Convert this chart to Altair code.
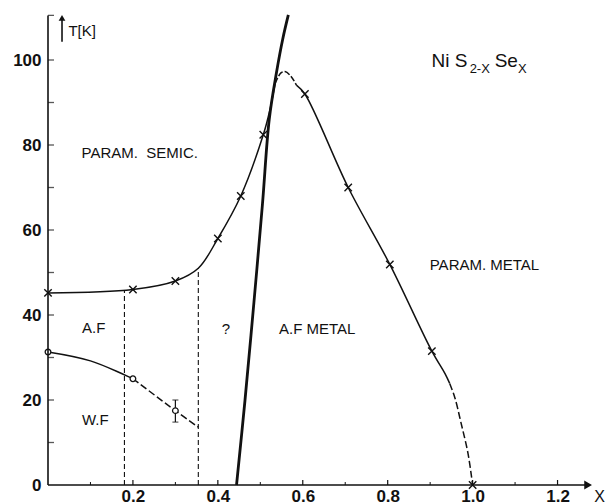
import altair as alt
import pandas as pd

# ---- measured transition temperatures ---------------------------------
# x marks (upper phase boundary)
cross_x = [0.0, 0.2, 0.3, 0.4, 0.454, 0.507, 0.605, 0.707, 0.805, 0.904, 1.0]
cross_t = [45.2, 46.0, 48.0, 58.0, 68.0, 82.4, 92.0, 70.0, 51.9, 31.5, 0.0]

# open circles (weak-ferromagnetic transition)
circ_x = [0.0, 0.2, 0.3]
circ_t = [31.3, 25.0, 17.5]

# error bar on the x = 0.3 circle
err_x = [0.3]
err_lo = [14.8]
err_hi = [20.0]

# ---- phase boundary curves (traced points) ----------------------------
up1_x = [0.0, 0.2, 0.3, 0.354, 0.4, 0.454, 0.507, 0.522, 0.535]
up1_t = [45.2, 46.0, 48.0, 51.0, 58.0, 68.0, 82.4, 88.0, 94.5]
peak_x = [0.535, 0.548, 0.558, 0.572, 0.585]
peak_t = [94.5, 96.9, 97.3, 96.2, 94.1]
up2_x = [0.585, 0.605, 0.707, 0.805, 0.904, 0.935, 0.946]
up2_t = [94.1, 92.0, 70.0, 51.9, 31.5, 26.2, 23.9]
tail_x = [0.946, 0.958, 0.973, 0.989, 1.0]
tail_t = [23.9, 20.6, 14.5, 7.5, 0.0]

low1_x = [0.0, 0.1, 0.2]
low1_t = [31.3, 29.2, 25.0]
low2_x = [0.2, 0.3, 0.354]
low2_t = [25.0, 17.5, 13.6]

# metal / semiconductor boundary (heavy line)
mi_x = [0.444, 0.464, 0.485, 0.505, 0.521, 0.538, 0.553, 0.566]
mi_t = [0.0, 20.0, 43.0, 66.0, 86.0, 97.0, 105.0, 110.6]

# dashed vertical region boundaries
vd_x = [0.18, 0.354]
vd_top = [45.8, 51.0]

# ---- axis ticks --------------------------------------------------------
y_ticks = [10, 20, 30, 40, 50, 60, 70, 80, 90, 100, 110.5]
x_major = [0.2, 0.4, 0.6, 0.8, 1.0, 1.2]
x_minor = [0.1, 0.3, 0.5, 0.7, 0.9, 1.1]
y_labels = [0, 20, 40, 60, 80, 100]

# ---- region labels -----------------------------------------------------
lab_text = ["PARAM.\u00a0 SEMIC.", "A.F", "W.F", "?", "A.F METAL", "PARAM. METAL"]
lab_x = [0.079, 0.080, 0.080, 0.409, 0.544, 0.899]
lab_t = [78.1, 36.9, 15.3, 36.7, 36.7, 51.8]

W, H = 552, 476
X_DOM = [0, 1.3]
Y_DOM = [0, 112]
INK = "#111111"
FONT = "Liberation Sans"

xs = alt.Scale(domain=X_DOM, nice=False, zero=False)
ys = alt.Scale(domain=Y_DOM, nice=False, zero=False)


def df(**cols):
    return pd.DataFrame(cols)


def curve(xv, tv, dash=None, width=1.5, interp="catmull-rom"):
    kw = dict(color=INK, strokeWidth=width, interpolate=interp, clip=False)
    if dash:
        kw["strokeDash"] = dash
    return alt.Chart(df(x=xv, t=tv)).mark_line(**kw).encode(
        x=alt.X("x:Q", scale=xs), y=alt.Y("t:Q", scale=ys)
    )


# base layer carrying the labelled axes
base = alt.Chart(df(x=[0.0], t=[0.0])).mark_point(opacity=0).encode(
    x=alt.X(
        "x:Q", scale=xs,
        axis=alt.Axis(values=x_major, format=".1f", title=None, domain=False,
                      ticks=False, grid=False, labelFont=FONT, labelFontSize=17,
                      labelFontWeight="bold", labelColor=INK, labelPadding=3),
    ),
    y=alt.Y(
        "t:Q", scale=ys,
        axis=alt.Axis(values=y_labels, format="d", title=None, domain=False,
                      ticks=False, grid=False, labelFont=FONT, labelFontSize=17,
                      labelFontWeight="bold", labelColor=INK, labelPadding=7),
    ),
)

# axis lines
x_axis_line = alt.Chart(df(x=[0.0], x2=[1.27], t=[0.0])).mark_rule(
    color=INK, strokeWidth=1.6).encode(
    x=alt.X("x:Q", scale=xs), x2="x2:Q", y=alt.Y("t:Q", scale=ys))
y_axis_line = alt.Chart(df(x=[0.0], t=[0.0], t2=[110.5])).mark_rule(
    color=INK, strokeWidth=1.6).encode(
    x=alt.X("x:Q", scale=xs), y=alt.Y("t:Q", scale=ys), y2="t2:Q")

x_arrow = alt.Chart(df(x=[1.272], t=[0.0])).mark_point(
    shape="triangle-right", filled=True, size=80, color=INK, opacity=1).encode(
    x=alt.X("x:Q", scale=xs), y=alt.Y("t:Q", scale=ys))

# T[K] arrow beside the y axis
t_arrow_line = alt.Chart(df(x=[0.033], t=[104.3], t2=[109.5])).mark_rule(
    color=INK, strokeWidth=1.6).encode(
    x=alt.X("x:Q", scale=xs), y=alt.Y("t:Q", scale=ys), y2="t2:Q")
t_arrow_head = alt.Chart(df(x=[0.033], t=[109.9])).mark_point(
    shape="triangle-up", filled=True, size=45, color=INK, opacity=1).encode(
    x=alt.X("x:Q", scale=xs), y=alt.Y("t:Q", scale=ys))

# inward ticks on the ordinate
y_tick_marks = alt.Chart(df(x=[0.0] * len(y_ticks), t=y_ticks)).mark_tick(
    color=INK, orient="horizontal", size=6, thickness=1.3, xOffset=3).encode(
    x=alt.X("x:Q", scale=xs), y=alt.Y("t:Q", scale=ys))
# inward ticks on the abscissa
x_major_ticks = alt.Chart(df(x=x_major)).mark_rule(color=INK, strokeWidth=1.2).encode(
    x=alt.X("x:Q", scale=xs), y=alt.value(H), y2=alt.value(H - 5))
x_minor_ticks = alt.Chart(df(x=x_minor)).mark_rule(color=INK, strokeWidth=1.0).encode(
    x=alt.X("x:Q", scale=xs), y=alt.value(H), y2=alt.value(H - 3))

# dashed vertical boundaries
vdash = alt.Chart(df(x=vd_x, t=[0.0, 0.0], t2=vd_top)).mark_rule(
    color=INK, strokeWidth=1.1, strokeDash=[5, 3]).encode(
    x=alt.X("x:Q", scale=xs), y=alt.Y("t:Q", scale=ys), y2="t2:Q")

# curves
upper = [
    curve(up1_x, up1_t),
    curve(peak_x, peak_t, dash=[6, 2]),
    curve(up2_x, up2_t),
    curve(tail_x, tail_t, dash=[7, 3]),
]
lower = [
    curve(low1_x, low1_t),
    curve(low2_x, low2_t, dash=[7, 3]),
]
heavy = curve(mi_x, mi_t, width=2.8)

# error bar with caps
err_bar = alt.Chart(df(x=err_x, lo=err_lo, hi=err_hi)).mark_rule(
    color=INK, strokeWidth=1.2).encode(
    x=alt.X("x:Q", scale=xs), y=alt.Y("lo:Q", scale=ys), y2="hi:Q")
err_caps = alt.Chart(df(x=err_x * 2, t=err_lo + err_hi)).mark_tick(
    color=INK, orient="horizontal", size=6, thickness=1.2).encode(
    x=alt.X("x:Q", scale=xs), y=alt.Y("t:Q", scale=ys))

crosses = alt.Chart(df(x=cross_x, t=cross_t)).mark_point(
    shape="M-1,-1L1,1M-1,1L1,-1", size=55, color=INK, strokeWidth=1.4,
    filled=False, opacity=1, clip=False).encode(
    x=alt.X("x:Q", scale=xs), y=alt.Y("t:Q", scale=ys))

circles = alt.Chart(df(x=circ_x, t=circ_t)).mark_point(
    shape="circle", size=32, color=INK, fill="white", fillOpacity=1,
    strokeWidth=1.3, opacity=1).encode(
    x=alt.X("x:Q", scale=xs), y=alt.Y("t:Q", scale=ys))

labels = alt.Chart(df(text=lab_text, x=lab_x, t=lab_t)).mark_text(
    align="left", baseline="middle", font=FONT, fontSize=15, color=INK).encode(
    x=alt.X("x:Q", scale=xs), y=alt.Y("t:Q", scale=ys), text="text:N")

# compound formula NiS(2-x)Se(x)
formula_big = alt.Chart(df(text=["Ni S", "Se"], x=[0.903, 1.052], t=[98.3, 98.3])).mark_text(
    align="left", baseline="alphabetic", font=FONT, fontSize=19, color=INK).encode(
    x=alt.X("x:Q", scale=xs), y=alt.Y("t:Q", scale=ys), text="text:N")
formula_sub = alt.Chart(df(text=["2-X", "X"], x=[0.993, 1.107], t=[96.9, 96.9])).mark_text(
    align="left", baseline="alphabetic", font=FONT, fontSize=13, color=INK).encode(
    x=alt.X("x:Q", scale=xs), y=alt.Y("t:Q", scale=ys), text="text:N")

# axis names: T[K] beside the arrow, X past the end of the abscissa
t_name = alt.Chart(df(text=["T[K]"], x=[0.048], t=[106.9])).mark_text(
    align="left", baseline="middle", font=FONT, fontSize=15, color=INK, clip=False).encode(
    x=alt.X("x:Q", scale=xs), y=alt.Y("t:Q", scale=ys), text="text:N")
x_name = alt.Chart(df(text=["X"], x=[1.299], t=[-2.9])).mark_text(
    align="center", baseline="middle", font=FONT, fontSize=16, color=INK, clip=False).encode(
    x=alt.X("x:Q", scale=xs), y=alt.Y("t:Q", scale=ys), text="text:N")

chart = alt.layer(
    base,
    vdash,
    *upper,
    *lower,
    heavy,
    err_bar,
    err_caps,
    crosses,
    circles,
    x_axis_line,
    y_axis_line,
    x_arrow,
    t_arrow_line,
    t_arrow_head,
    y_tick_marks,
    x_major_ticks,
    x_minor_ticks,
    labels,
    formula_big,
    formula_sub,
    t_name,
    x_name,
).properties(
    width=W,
    height=H,
    autosize=alt.AutoSizeParams(type="none"),
    padding={"left": 48, "top": 9, "right": 5, "bottom": 19},
    background="white",
).configure_view(stroke=None)

chart.save("out.html", embed_options={"renderer": "svg", "actions": False})
